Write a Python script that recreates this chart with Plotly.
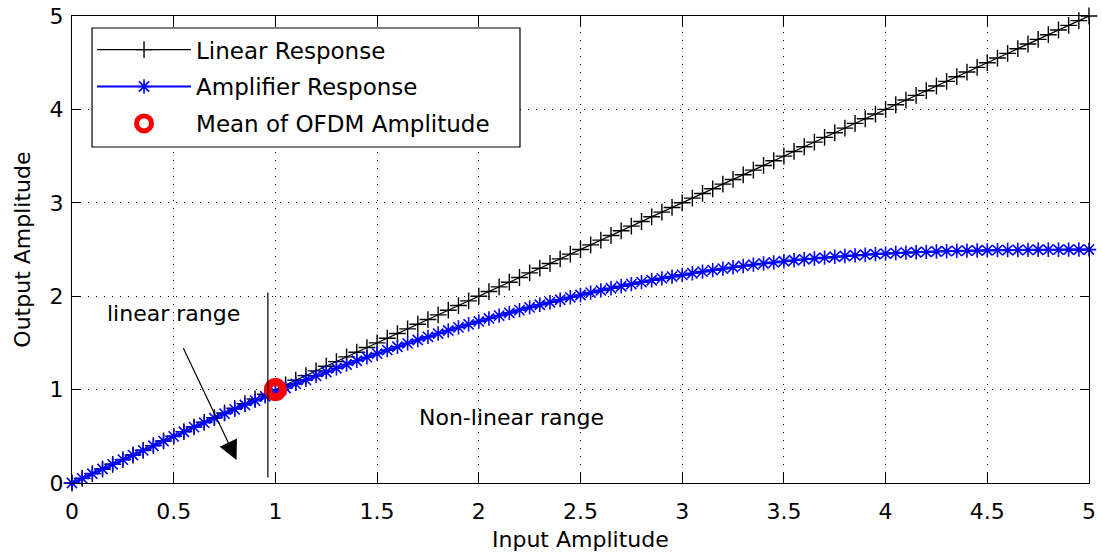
import plotly.graph_objects as go

# ---------------- data ----------------
input_amp = [0.00, 0.05, 0.10, 0.15, 0.20, 0.25, 0.30, 0.35, 0.40, 0.45,
             0.50, 0.55, 0.60, 0.65, 0.70, 0.75, 0.80, 0.85, 0.90, 0.95,
             1.00, 1.05, 1.10, 1.15, 1.20, 1.25, 1.30, 1.35, 1.40, 1.45,
             1.50, 1.55, 1.60, 1.65, 1.70, 1.75, 1.80, 1.85, 1.90, 1.95,
             2.00, 2.05, 2.10, 2.15, 2.20, 2.25, 2.30, 2.35, 2.40, 2.45,
             2.50, 2.55, 2.60, 2.65, 2.70, 2.75, 2.80, 2.85, 2.90, 2.95,
             3.00, 3.05, 3.10, 3.15, 3.20, 3.25, 3.30, 3.35, 3.40, 3.45,
             3.50, 3.55, 3.60, 3.65, 3.70, 3.75, 3.80, 3.85, 3.90, 3.95,
             4.00, 4.05, 4.10, 4.15, 4.20, 4.25, 4.30, 4.35, 4.40, 4.45,
             4.50, 4.55, 4.60, 4.65, 4.70, 4.75, 4.80, 4.85, 4.90, 4.95,
             5.00]

linear_response = [0.00, 0.05, 0.10, 0.15, 0.20, 0.25, 0.30, 0.35, 0.40, 0.45,
                   0.50, 0.55, 0.60, 0.65, 0.70, 0.75, 0.80, 0.85, 0.90, 0.95,
                   1.00, 1.05, 1.10, 1.15, 1.20, 1.25, 1.30, 1.35, 1.40, 1.45,
                   1.50, 1.55, 1.60, 1.65, 1.70, 1.75, 1.80, 1.85, 1.90, 1.95,
                   2.00, 2.05, 2.10, 2.15, 2.20, 2.25, 2.30, 2.35, 2.40, 2.45,
                   2.50, 2.55, 2.60, 2.65, 2.70, 2.75, 2.80, 2.85, 2.90, 2.95,
                   3.00, 3.05, 3.10, 3.15, 3.20, 3.25, 3.30, 3.35, 3.40, 3.45,
                   3.50, 3.55, 3.60, 3.65, 3.70, 3.75, 3.80, 3.85, 3.90, 3.95,
                   4.00, 4.05, 4.10, 4.15, 4.20, 4.25, 4.30, 4.35, 4.40, 4.45,
                   4.50, 4.55, 4.60, 4.65, 4.70, 4.75, 4.80, 4.85, 4.90, 4.95,
                   5.00]

amplifier_response = [0.000, 0.050, 0.100, 0.150, 0.200, 0.250, 0.299, 0.349, 0.399, 0.449,
                      0.499, 0.549, 0.598, 0.646, 0.694, 0.742, 0.789, 0.836, 0.882, 0.928,
                      0.973, 1.017, 1.061, 1.104, 1.147, 1.188, 1.229, 1.269, 1.309, 1.347,
                      1.385, 1.423, 1.459, 1.495, 1.531, 1.565, 1.600, 1.633, 1.666, 1.699,
                      1.730, 1.762, 1.792, 1.822, 1.851, 1.880, 1.908, 1.935, 1.962, 1.988,
                      2.013, 2.038, 2.062, 2.085, 2.107, 2.129, 2.151, 2.171, 2.191, 2.210,
                      2.228, 2.246, 2.263, 2.279, 2.295, 2.310, 2.324, 2.338, 2.350, 2.362,
                      2.374, 2.385, 2.395, 2.404, 2.413, 2.422, 2.430, 2.437, 2.444, 2.451,
                      2.456, 2.462, 2.467, 2.471, 2.475, 2.479, 2.482, 2.485, 2.488, 2.490,
                      2.491, 2.493, 2.494, 2.495, 2.496, 2.497, 2.498, 2.498, 2.499, 2.499,
                      2.499]

mean_point_x = [1.0]
mean_point_y = [1.0]

series_names = ["Linear Response", "Amplifier Response", "Mean of OFDM Amplitude"]

x_ticks = [0, 0.5, 1, 1.5, 2, 2.5, 3, 3.5, 4, 4.5, 5]
x_tick_labels = ["0", "0.5", "1", "1.5", "2", "2.5", "3", "3.5", "4", "4.5", "5"]
y_ticks = [0, 1, 2, 3, 4, 5]
y_tick_labels = ["0", "1", "2", "3", "4", "5"]

# annotation geometry (data units)
boundary_line_x = [0.963, 0.963]
boundary_line_y = [0.06, 2.04]
arrow_tail = [0.544, 1.458]
arrow_tip = [0.809, 0.246]
linear_label_pos = [0.499, 1.82]
nonlinear_label_pos = [2.162, 0.70]

# legend frame (paper fractions)
legend_box_x = [0.0197, 0.4405]
legend_box_y = [0.7195, 0.9743]

FONT = "DejaVu Sans"

fig = go.Figure()

fig.add_trace(go.Scatter(
    x=input_amp, y=linear_response, name=series_names[0], mode="lines+markers",
    line=dict(color="black", width=1.2),
    marker=dict(symbol="cross-thin", size=12, color="black",
                line=dict(color="black", width=1.4)),
    cliponaxis=False, legendgroup="a"))

fig.add_trace(go.Scatter(
    x=input_amp, y=amplifier_response, name=series_names[1], mode="lines+markers",
    line=dict(color="#0000ff", width=2),
    marker=dict(symbol="asterisk-open", size=12, color="#0000ff",
                line=dict(color="#0000ff", width=1.6)),
    cliponaxis=False, legendgroup="b"))

fig.add_trace(go.Scatter(
    x=mean_point_x, y=mean_point_y, name=series_names[2], mode="markers",
    marker=dict(symbol="circle-open", size=15, color="#ff0000",
                line=dict(color="#ff0000", width=8)),
    cliponaxis=False, legendgroup="c"))

fig.add_shape(type="line", xref="x", yref="y",
              x0=boundary_line_x[0], x1=boundary_line_x[1],
              y0=boundary_line_y[0], y1=boundary_line_y[1],
              line=dict(color="black", width=1.2))

# legend frame drawn as a shape beneath the (transparent) legend
fig.add_shape(type="rect", xref="paper", yref="paper", layer="above",
              x0=legend_box_x[0], x1=legend_box_x[1],
              y0=legend_box_y[0], y1=legend_box_y[1],
              fillcolor="white", line=dict(color="black", width=1.2))

fig.add_annotation(x=arrow_tip[0], y=arrow_tip[1], ax=arrow_tail[0], ay=arrow_tail[1],
                   xref="x", yref="y", axref="x", ayref="y", text="",
                   showarrow=True, arrowhead=2, arrowsize=3.2, arrowwidth=1.2,
                   arrowcolor="black")

fig.add_annotation(x=linear_label_pos[0], y=linear_label_pos[1], xref="x", yref="y",
                   text="linear range", showarrow=False,
                   font=dict(family=FONT, size=22, color="black"))
fig.add_annotation(x=nonlinear_label_pos[0], y=nonlinear_label_pos[1], xref="x", yref="y",
                   text="Non-linear range", showarrow=False,
                   font=dict(family=FONT, size=22, color="black"))

# axis titles
fig.add_annotation(x=0.5, y=-0.122, xref="paper", yref="paper", text="Input Amplitude",
                   showarrow=False, xanchor="center", yanchor="middle",
                   font=dict(family=FONT, size=22, color="black"))
fig.add_annotation(x=-0.049, y=0.5, xref="paper", yref="paper", text="Output Amplitude",
                   showarrow=False, textangle=-90, xanchor="center", yanchor="middle",
                   font=dict(family=FONT, size=22, color="black"))

axis_common = dict(
    showline=True, linecolor="black", linewidth=1.2, mirror="ticks",
    ticks="inside", tickcolor="black", tickwidth=1.2, automargin=False,
    showgrid=True, gridcolor="black", gridwidth=1, griddash="1px,7px",
    zeroline=False, tickfont=dict(family=FONT, size=22, color="black"),
)

fig.update_xaxes(range=[0, 5], tickvals=x_ticks, ticktext=x_tick_labels, ticklen=11,
                 ticklabelstandoff=8, **axis_common)
fig.update_yaxes(range=[0, 5], tickvals=y_ticks, ticktext=y_tick_labels, ticklen=9,
                 ticklabelstandoff=3, **axis_common)

fig.update_layout(
    width=1102, height=555,
    margin=dict(l=72, r=13, t=16, b=72),
    paper_bgcolor="white", plot_bgcolor="white",
    font=dict(family=FONT, size=22, color="black"),
    showlegend=True,
    legend=dict(x=0.0197, y=0.974, xanchor="left", yanchor="top",
                bgcolor="rgba(0,0,0,0)", bordercolor="black", borderwidth=0,
                font=dict(family=FONT, size=23, color="black"),
                traceorder="grouped", tracegroupgap=4, itemwidth=94,
                itemsizing="trace"),
)

fig.write_html("out.html")
